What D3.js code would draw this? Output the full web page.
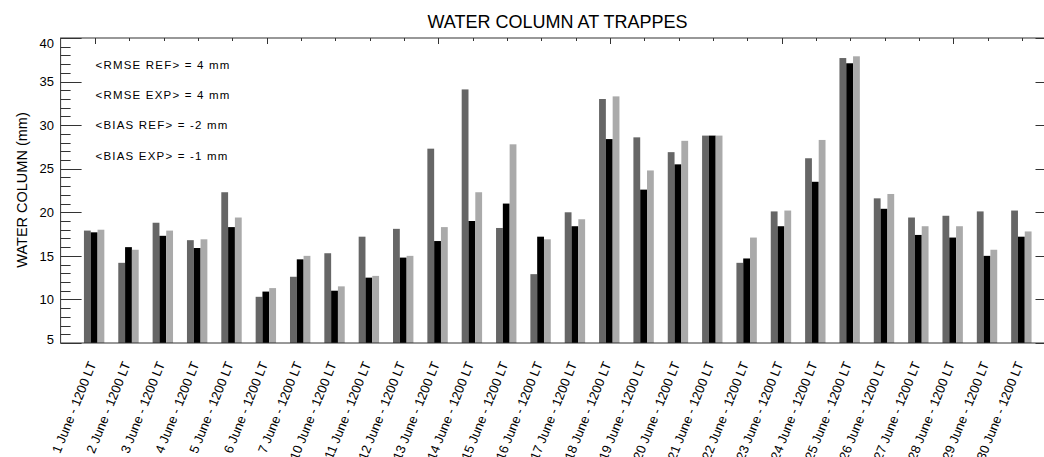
<!DOCTYPE html>
<html>
<head>
<meta charset="utf-8">
<script src="https://cdn.jsdelivr.net/npm/d3@7"></script>
<style>
  html, body { margin: 0; padding: 0; background: #fff; }
  svg { display: block; }
  text { font-family: "Liberation Sans", Arial, Helvetica, sans-serif; fill: #000; }
</style>
</head>
<body>
<script>
// Days of June with a 12:00 LT sounding
const days = [1, 2, 3, 4, 5, 6, 7, 10, 11, 12, 13, 14, 15, 16, 17, 18, 19, 20,
              21, 22, 23, 24, 25, 26, 27, 28, 29, 30];
const categories = days.map(d => d + " June - 1200 LT");

// Integrated water column (mm)
const refValues = [17.9, 14.2, 18.8, 16.8, 22.3, 10.3, 12.6, 15.3, 17.2, 18.1, 27.3, 34.1, 18.2, 12.9,
                   20.0, 33.0, 28.6, 26.9, 28.8, 14.2, 20.1, 26.2, 37.7, 21.6, 19.4, 19.6, 20.1, 20.2];
const obsValues = [17.7, 16.0, 17.3, 15.9, 18.3, 10.9, 14.6, 11.0, 12.5, 14.8, 16.7, 19.0, 21.0, 17.2,
                   18.4, 28.4, 22.6, 25.5, 28.8, 14.7, 18.4, 23.5, 37.1, 20.4, 17.4, 17.1, 15.0, 17.2];
const expValues = [18.0, 15.7, 17.9, 16.9, 19.4, 11.3, 15.0, 11.5, 12.7, 15.0, 18.3, 22.3, 27.8, 16.9,
                   19.2, 33.3, 24.8, 28.2, 28.8, 17.1, 20.2, 28.3, 37.9, 22.1, 18.4, 18.4, 15.7, 17.8];

const seriesNames = ["REF", "OBS", "EXP"];
const seriesColors = ["#666666", "#000000", "#aaaaaa"];
const seriesValues = [refValues, obsValues, expValues];

const statLines = ["<RMSE REF> = 4 mm", "<RMSE EXP> = 4 mm", "<BIAS REF> = -2 mm", "<BIAS EXP> = -1 mm"];
const yTicks = [5, 10, 15, 20, 25, 30, 35, 40];

const W = 1044, H = 457;
const plotL = 60.6, plotR = 1056.5, plotT = 38, plotB = 343;

const svg = d3.select("body").append("svg").attr("width", W).attr("height", H);

const x = d3.scaleLinear().domain([0, days.length + 1]).range([plotL, plotR]);
const y = d3.scaleLinear().domain([5, 40]).range([plotB, plotT]);
const inner = d3.scaleBand().domain(seriesNames).range([-11, 9.4]).padding(0);

// Bars
const rows = [];
seriesValues.forEach((vals, s) => vals.forEach((v, i) => rows.push({ i, s, v })));
svg.append("g").selectAll("rect").data(rows).join("rect")
  .attr("x", d => x(d.i + 1) + inner(seriesNames[d.s]))
  .attr("width", inner.bandwidth())
  .attr("y", d => y(d.v))
  .attr("height", d => y(5) - y(d.v))
  .attr("fill", d => seriesColors[d.s]);

// Frame
const axisColor = "#333";
svg.append("rect").attr("x", plotL).attr("y", plotT)
  .attr("width", plotR - plotL).attr("height", plotB - plotT)
  .attr("fill", "none").attr("stroke", axisColor).attr("stroke-width", 1);

// Left / right axes with 1 mm minor ticks
const minor = d3.range(5, 41, 1);
const gl = svg.append("g");
minor.forEach(v => {
  const major = v % 5 === 0;
  const len = major ? 21 : 10;
  const yy = Math.round(y(v)) + 0.5;
  gl.append("line").attr("x1", plotL).attr("x2", plotL + len)
    .attr("y1", yy).attr("y2", yy).attr("stroke", axisColor);
  gl.append("line").attr("x1", plotR).attr("x2", plotR - len)
    .attr("y1", yy).attr("y2", yy).attr("stroke", axisColor);
});

// Y tick labels, end labels kept inside the frame
svg.append("g").selectAll("text").data(yTicks).join("text")
  .attr("x", 54)
  .attr("y", d => Math.min(Math.max(y(d), plotT + 5), plotB - 4))
  .attr("dy", "0.36em")
  .attr("text-anchor", "end")
  .attr("font-size", 13)
  .text(d => d);

// Top axis ticks at each category
const gt = svg.append("g");
days.forEach((d, i) => {
  const xv = Math.round(x(i + 1)) + 0.5;
  const len = i % 5 === 0 ? 6 : 3;
  gt.append("line").attr("x1", xv).attr("x2", xv)
    .attr("y1", plotT).attr("y2", plotT + len).attr("stroke", axisColor);
});

// Category labels
svg.append("g").selectAll("text").data(categories).join("text")
  .attr("transform", (d, i) => `translate(${x(i + 1) + 1.5},364) rotate(-68)`)
  .attr("text-anchor", "end")
  .attr("font-size", 13)
  .text(d => d);

// Title
svg.append("text").attr("x", 557.5).attr("y", 28)
  .attr("text-anchor", "middle").attr("font-size", 18)
  .text("WATER COLUMN AT TRAPPES");

// Y axis title
svg.append("text").attr("transform", "translate(27,190) rotate(-90)")
  .attr("text-anchor", "middle").attr("font-size", 14.5)
  .text("WATER COLUMN (mm)");

// Statistics
svg.append("g").selectAll("text").data(statLines).join("text")
  .attr("x", 95.5)
  .attr("y", (d, i) => 68.5 + i * 30.4)
  .attr("font-size", 11.5)
  .attr("letter-spacing", 1.2)
  .text(d => d);
</script>
</body>
</html>
